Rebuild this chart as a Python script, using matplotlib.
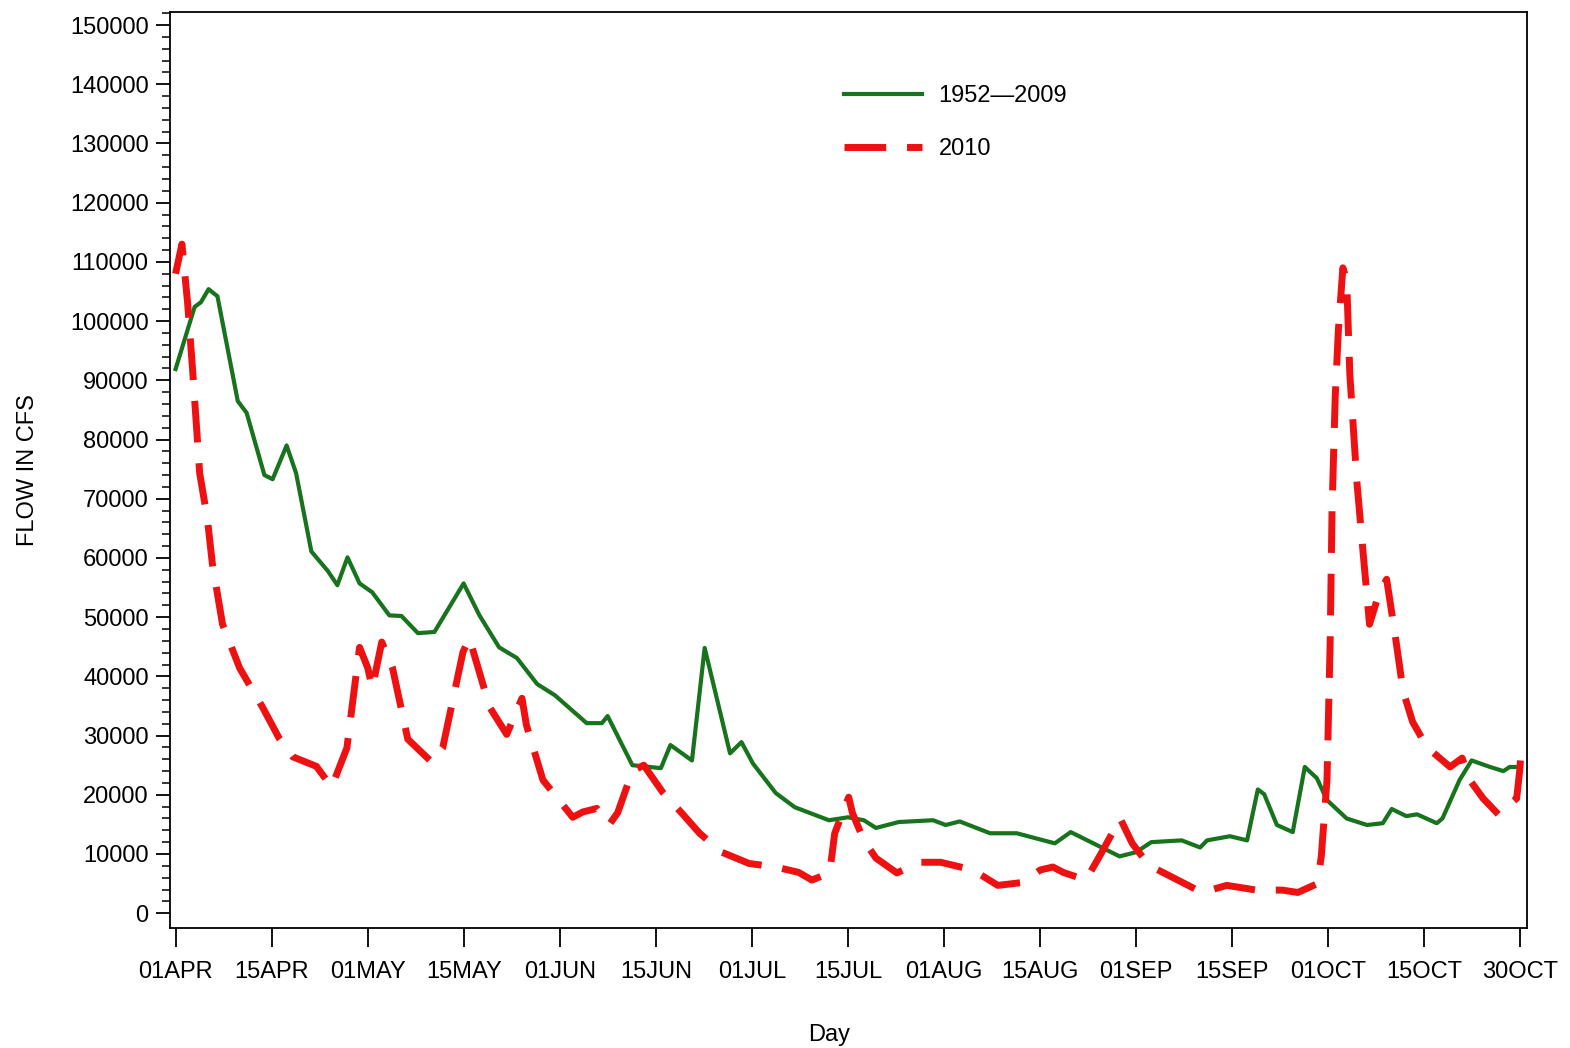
import numpy as np
import matplotlib
matplotlib.use("Agg")
from matplotlib import pyplot as plt

plt.rcParams['font.family'] = ['Liberation Sans', 'DejaVu Sans']

# days since 01APR, flow in CFS
dias_media = [0, 3, 4, 5.2, 6.6, 9.8, 11.2, 14, 15.3, 17.5, 19, 21.4, 24, 25.5, 27.1, 29, 31,
              33.7, 35.6, 38.2, 40.8, 45.4, 47.9, 51, 53.8, 57, 59.8, 64.8, 67.2, 68.1, 72,
              76.5, 78, 81.4, 83.4, 87.4, 89.2, 91, 94.6, 97.6, 103, 106, 108.5, 110.4, 114,
              119.4, 121.4, 123.6, 128.4, 132.6, 138.6, 141.1, 148.8, 151.4, 153.8, 158.6,
              161.5, 162.6, 166.2, 168.9, 170.6, 171.6, 173.6, 176.1, 178, 179.9, 181.5,
              184.6, 187.8, 190.3, 191.7, 194, 195.7, 198.8, 199.7, 202.4, 204.3, 207.2,
              209.3, 210.3, 212]
vazao_media = [91.9, 102.4, 103.2, 105.4, 104.2, 86.5, 84.5, 74, 73.3, 79, 74.3, 61.1, 57.8,
               55.4, 60.1, 55.7, 54.2, 50.3, 50.2, 47.3, 47.5, 55.7, 50.3, 44.9, 43.1, 38.7,
               36.8, 32.1, 32.1, 33.3, 25, 24.5, 28.4, 25.8, 44.8, 27, 28.9, 25.3, 20.3, 17.9,
               15.7, 16.2, 15.7, 14.4, 15.4, 15.7, 14.9, 15.5, 13.5, 13.5, 11.8, 13.7, 9.6,
               10.3, 12, 12.3, 11.1, 12.3, 13, 12.3, 20.9, 20.1, 14.9, 13.7, 24.7, 22.8, 19.1,
               16, 14.9, 15.2, 17.6, 16.4, 16.7, 15.2, 16, 22.5, 25.8, 24.7, 24, 24.7, 24.7]

dias_2010 = [0, 1, 1.9, 2.7, 3.8, 5, 5.8, 7.4, 10.1, 13.7, 16.4, 18.5, 22.2, 24.6, 27, 29,
             30.3, 31, 32.5, 34.2, 36.6, 40.4, 42.1, 45.3, 46.3, 49.5, 52.2, 54.6, 55.3, 57.9,
             62.6, 64.2, 66.4, 68.4, 69.7, 72, 73.8, 76.8, 79.8, 82.6, 86.1, 90.4, 94.6, 98.2,
             100.3, 103.1, 103.9, 106.1, 106.7, 108.5, 110.4, 113.7, 117.3, 120.6, 125.7,
             129.6, 133.6, 136.3, 138.3, 139.9, 143.5, 145.9, 148.9, 150.8, 153.4, 156.7,
             161.8, 165.7, 170.4, 174.5, 176.9, 180, 180.6, 181.5, 182, 182.3, 182.8, 183.3,
             184, 184.6, 185.1, 186.2, 187.2, 188.2, 189.7, 190.9, 192.2, 193.5, 195, 197.3,
             200.9, 202.8, 204, 206.1, 208.5, 211.4, 211.9, 212]
vazao_2010 = [108, 113, 103, 91.5, 74.3, 66.7, 59, 48.8, 41.4, 34.8, 29.4, 26.4, 24.8, 21.3,
              27.9, 44.9, 41.4, 38, 45.8, 41.4, 29.4, 25.5, 27.9, 44.1, 46.5, 34.8, 30.2, 36.3,
              31.8, 22.5, 16.2, 17.1, 17.7, 15, 17, 24, 25, 20.4, 16.9, 13.5, 10.3, 8.4, 7.8,
              6.9, 5.6, 6.8, 13.5, 19.6, 16.9, 12.3, 9.3, 6.8, 8.6, 8.6, 7.3, 4.7, 5.2, 7.3,
              7.8, 6.9, 5.6, 10.1, 16, 11.8, 8.1, 6.3, 3.5, 4.7, 3.9, 3.9, 3.5, 5, 9.6, 22.5,
              45.8, 68.4, 87.3, 98.6, 109, 107, 91, 73, 60.8, 48.8, 54, 56.4, 47.3, 37.5,
              32.3, 28, 24.7, 26.2, 22.5, 19.4, 16.7, 19.4, 24.3, 25.8]

rotulos_x = ['01APR', '15APR', '01MAY', '15MAY', '01JUN', '15JUN', '01JUL', '15JUL',
             '01AUG', '15AUG', '01SEP', '15SEP', '01OCT', '15OCT', '30OCT']

fig = plt.figure(figsize=(15.7, 10.48), dpi=100)
ax = fig.add_axes([0.108, 0.1145, 0.8645, 0.874])

ax.plot(dias_media, np.array(vazao_media) * 1000, color='#17731c', linewidth=3,
        label='1952\u20142009')
ax.plot(dias_2010, np.array(vazao_2010) * 1000, color='#ee1111', linewidth=5,
        dashes=(6, 3), label='2010')

ax.set_xlim(-0.95, 213)
ax.set_ylim(-2500, 152200)
ax.set_xticks(np.linspace(0, 212, len(rotulos_x)))
ax.set_xticklabels(rotulos_x)
ax.set_yticks(np.arange(0, 150001, 10000))
ax.set_yticks(np.arange(0, 152001, 2000), minor=True)
ax.tick_params(axis='both', labelsize=17, direction='out', width=1.3)
ax.tick_params(axis='x', length=14, pad=10)
ax.tick_params(axis='y', which='major', length=10, pad=5)
ax.tick_params(axis='y', which='minor', length=6, width=1.1)
for s in ax.spines.values():
    s.set_linewidth(1.3)

ax.set_xlabel('Day', fontsize=17, labelpad=24)
ax.xaxis.set_label_coords(0.486, -0.105)
ax.set_ylabel('FLOW IN CFS', fontsize=17, labelpad=22)

ax.legend(loc='upper left', bbox_to_anchor=(0.497, 0.92), frameon=False, fontsize=17,
          handlelength=3.3, handletextpad=0.7, labelspacing=1.3, borderpad=0,
          borderaxespad=0)

plt.savefig('out.png', dpi=100)
